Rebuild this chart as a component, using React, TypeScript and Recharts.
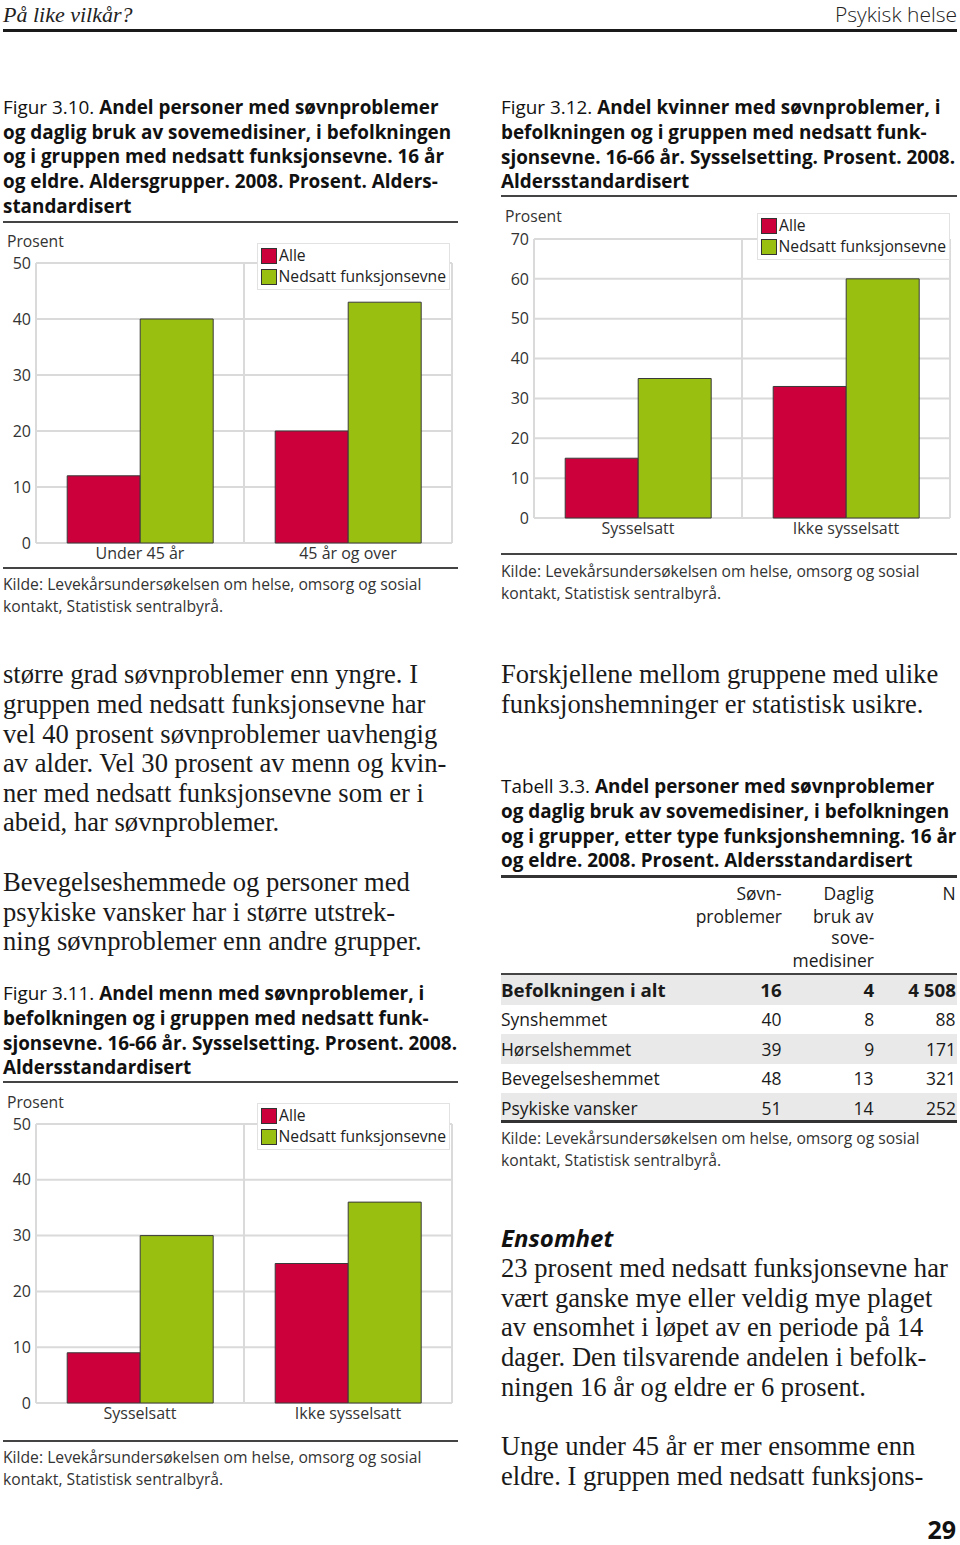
import React from 'react';
import { BarChart, Bar, XAxis, YAxis, CartesianGrid, Legend } from 'recharts';

const SANS = "'Open Sans', 'Noto Sans', sans-serif";
const SERIF = "'Liberation Serif', 'Times New Roman', serif";
const RED = '#cc003b';
const GREEN = '#99bf10';
const GRID = '#dadada';

// Figur 3.10
const CATS_310 = ['Under 45 år', '45 år og over'];
const ALLE_310 = [12, 20];
const NED_310 = [40, 43];
const TICKS_310 = [0, 10, 20, 30, 40, 50];
// Figur 3.12
const CATS_312 = ['Sysselsatt', 'Ikke sysselsatt'];
const ALLE_312 = [15, 33];
const NED_312 = [35, 60];
const TICKS_312 = [0, 10, 20, 30, 40, 50, 60, 70];
// Figur 3.11
const CATS_311 = ['Sysselsatt', 'Ikke sysselsatt'];
const ALLE_311 = [9, 25];
const NED_311 = [30, 36];
const TICKS_311 = [0, 10, 20, 30, 40, 50];
const SERIES_NAMES = ['Alle', 'Nedsatt funksjonsevne'];

// Tabell 3.3
const TAB_ROWS = ['Befolkningen i alt', 'Synshemmet', 'Hørselshemmet', 'Bevegelseshemmet', 'Psykiske vansker'];
const TAB_SOVN = ['16', '40', '39', '48', '51'];
const TAB_DAGLIG = ['4', '8', '9', '13', '14'];
const TAB_N = ['4 508', '88', '171', '321', '252'];

const KILDE = ['Kilde: Levekårsundersøkelsen om helse, omsorg og sosial', 'kontakt, Statistisk sentralbyrå.'];

type LineProps = {
  x: number; y: number; size: number; lh?: number; children: React.ReactNode;
  align?: 'left' | 'right'; sx?: number; style?: React.CSSProperties;
};
function Line({ x, y, size, lh, children, align = 'left', sx = 1, style }: LineProps) {
  const h = lh ?? Math.round(size * 1.4);
  const s: React.CSSProperties = {
    position: 'absolute', top: y - h / 2, height: h, lineHeight: h + 'px', fontSize: size,
    whiteSpace: 'nowrap', transform: sx !== 1 ? `scaleX(${sx})` : undefined,
    transformOrigin: align === 'right' ? 'right center' : 'left center', ...style,
  };
  if (align === 'right') s.right = 960 - x; else s.left = x;
  return <div style={s}>{children}</div>;
}

function Rule({ x1, x2, y, t, c = '#333' }: { x1: number; x2: number; y: number; t: number; c?: string }) {
  return <div style={{ position: 'absolute', left: x1, top: y - t / 2, width: x2 - x1, height: t, background: c }} />;
}

const capStyle: React.CSSProperties = { fontFamily: SANS, fontWeight: 700, color: '#111' };
function Caption({ x, ys, label, lines }: { x: number; ys: number[]; label: string; lines: string[] }) {
  return (
    <>
      {lines.map((t, i) => (
        <Line key={i} x={x} y={ys[i]} size={18.9} style={capStyle}>
          {i === 0 ? <span style={{ fontWeight: 400 }}>{label} </span> : null}
          {t}
        </Line>
      ))}
    </>
  );
}

function Source({ x, ys }: { x: number; ys: number[] }) {
  return (
    <>
      {KILDE.map((t, i) => (
        <Line key={i} x={x} y={ys[i]} size={15.7} style={{ fontFamily: SANS, color: '#333' }}>{t}</Line>
      ))}
    </>
  );
}

const renderLegend = (props: any) => {
  const payload = props.payload || [];
  return (
    <div style={{ background: '#fff', border: '1px solid #e2e2e2', padding: '1px 3px 2px 3px', boxSizing: 'border-box', width: 193 }}>
      {payload.map((p: any) => (
        <div key={p.value} style={{ display: 'flex', alignItems: 'center', height: 21 }}>
          <span style={{ display: 'inline-block', width: 16, height: 16, background: p.color, border: '1px solid #333', boxSizing: 'border-box', marginRight: 2 }} />
          <span style={{ fontSize: 15.7, fontFamily: SANS, color: '#222', lineHeight: '21px', whiteSpace: 'nowrap' }}>{p.value}</span>
        </div>
      ))}
    </div>
  );
};

type FigProps = {
  cats: string[]; alle: number[]; ned: number[]; ticks: number[];
  left: number; top: number; width: number; height: number;
  mTop: number; mRight: number; mLeft: number; legendLeft: number;
};
function Fig({ cats, alle, ned, ticks, left, top, width, height, mTop, mRight, mLeft, legendLeft }: FigProps) {
  const data = cats.map((c, i) => ({ cat: c, alle: alle[i], ned: ned[i] }));
  const tickStyle = { fontSize: 16, fill: '#333', fontFamily: SANS };
  return (
    <div style={{ position: 'absolute', left, top }}>
      <BarChart width={width} height={height} data={data}
        margin={{ top: mTop, right: mRight, left: mLeft, bottom: 0 }}
        barCategoryGap="15%" barGap={0}>
        <CartesianGrid stroke={GRID} strokeWidth={2}
          verticalCoordinatesGenerator={({ offset }: any) => [offset.left, offset.left + offset.width / 2, offset.left + offset.width]} />
        <XAxis dataKey="cat" axisLine={false} tickLine={false} tickSize={0} tickMargin={5} height={25} interval={0} tick={tickStyle} />
        <YAxis domain={[0, ticks[ticks.length - 1]]} ticks={ticks} interval={0} axisLine={false} tickLine={false} tickSize={0} tickMargin={5} width={30} tick={tickStyle} />
        <Bar dataKey="alle" name={SERIES_NAMES[0]} fill={RED} stroke="#3a3a3a" strokeWidth={1} isAnimationActive={false} />
        <Bar dataKey="ned" name={SERIES_NAMES[1]} fill={GREEN} stroke="#3a3a3a" strokeWidth={1} isAnimationActive={false} />
        <Legend layout="vertical" align="center" verticalAlign="middle" content={renderLegend}
          wrapperStyle={{ position: 'absolute', left: legendLeft, top: 8, width: 193 }} />
      </BarChart>
    </div>
  );
}

const bodyStyle: React.CSSProperties = { fontFamily: SERIF, color: '#1a1a1a' };
const BODY_SIZE = 26.6;
const BODY_LEFT = [
  'større grad søvnproblemer enn yngre. I',
  'gruppen med nedsatt funksjonsevne har',
  'vel 40 prosent søvnproblemer uavhengig',
  'av alder. Vel 30 prosent av menn og kvin-',
  'ner med nedsatt funksjonsevne som er i',
  'abeid, har søvnproblemer.',
  'Bevegelseshemmede og personer med',
  'psykiske vansker har i større utstrek-',
  'ning søvnproblemer enn andre grupper.',
];
const BODY_LEFT_Y = [674, 704, 734, 763, 793, 822, 882, 912, 941];
const BODY_RIGHT = ['Forskjellene mellom gruppene med ulike', 'funksjonshemninger er statistisk usikre.'];
const BODY_RIGHT_Y = [674, 704];
const ENSOM = [
  '23 prosent med nedsatt funksjonsevne har',
  'vært ganske mye eller veldig mye plaget',
  'av ensomhet i løpet av en periode på 14',
  'dager. Den tilsvarende andelen i befolk-',
  'ningen 16 år og eldre er 6 prosent.',
  'Unge under 45 år er mer ensomme enn',
  'eldre. I gruppen med nedsatt funksjons-',
];
const ENSOM_Y = [1268, 1298, 1327, 1357, 1387, 1446, 1476];

function Table() {
  const rowY = [990, 1019, 1049, 1078, 1108];
  const cell: React.CSSProperties = { fontFamily: SANS, color: '#1a1a1a' };
  const hdr = (x: number, ys: number[], lines: string[]) =>
    lines.map((t, i) => <Line key={t} x={x} y={ys[i]} size={18} sx={0.97} align="right" style={cell}>{t}</Line>);
  return (
    <>
      <Rule x1={501} x2={957} y={876} t={3} c="#333" />
      {hdr(782, [893, 916], ['Søvn-', 'problemer'])}
      {hdr(874, [893, 916, 937, 960], ['Daglig', 'bruk av', 'sove-', 'medisiner'])}
      {hdr(956, [893], ['N'])}
      {TAB_ROWS.map((r, i) => {
        const b = i === 0;
        const st = { ...cell, fontWeight: b ? 700 : 400 };
        const sx = b ? 1.04 : 0.97;
        return (
          <React.Fragment key={r}>
            {i % 2 === 0 ? <div style={{ position: 'absolute', left: 501, width: 456, top: rowY[i] - 15, height: 29.5, background: '#e9e9e9' }} /> : null}
            <Line x={501} y={rowY[i]} size={18} sx={sx} style={st}>{r}</Line>
            <Line x={782} y={rowY[i]} size={18} sx={sx} align="right" style={st}>{TAB_SOVN[i]}</Line>
            <Line x={874} y={rowY[i]} size={18} sx={sx} align="right" style={st}>{TAB_DAGLIG[i]}</Line>
            <Line x={956} y={rowY[i]} size={18} sx={sx} align="right" style={st}>{TAB_N[i]}</Line>
          </React.Fragment>
        );
      })}
      <Rule x1={501} x2={957} y={974} t={2} c="#444" />
      <Rule x1={501} x2={957} y={1121} t={3} c="#333" />
    </>
  );
}

export default function App() {
  return (
    <div style={{ position: 'absolute', left: 0, top: 0, width: 960, height: 1545, background: '#fff', overflow: 'hidden' }}>
      {/* header */}
      <Line x={3} y={14} size={22} style={{ fontFamily: SERIF, fontStyle: 'italic', color: '#222' }}>På like vilkår?</Line>
      <Line x={957} y={14} size={21} align="right" style={{ fontFamily: SANS, fontWeight: 300, color: '#222' }}>Psykisk helse</Line>
      <Rule x1={3} x2={957} y={30} t={3} c="#1a1a1a" />

      {/* Figur 3.10 */}
      <Caption x={3} ys={[107, 132, 156, 181, 206]} label="Figur 3.10."
        lines={['Andel personer med søvnproblemer', 'og daglig bruk av sovemedisiner, i befolkningen', 'og i gruppen med nedsatt funksjonsevne. 16 år', 'og eldre. Aldersgrupper. 2008. Prosent. Alders-', 'standardisert']} />
      <Rule x1={3} x2={458} y={222} t={2} c="#444" />
      <Line x={7} y={241} size={15.7} style={{ fontFamily: SANS, color: '#333' }}>Prosent</Line>
      <Fig cats={CATS_310} alle={ALLE_310} ned={NED_310} ticks={TICKS_310}
        left={0} top={235} width={460} height={333} mTop={28} mRight={8} mLeft={6} legendLeft={257} />
      <Rule x1={3} x2={458} y={568} t={2} c="#444" />
      <Source x={3} ys={[584, 606]} />

      {/* Figur 3.12 */}
      <Caption x={501} ys={[107, 132, 157, 181]} label="Figur 3.12."
        lines={['Andel kvinner med søvnproblemer, i', 'befolkningen og i gruppen med nedsatt funk-', 'sjonsevne. 16-66 år. Sysselsetting. Prosent. 2008.', 'Aldersstandardisert']} />
      <Rule x1={501} x2={957} y={196} t={2} c="#444" />
      <Line x={505} y={216} size={15.7} style={{ fontFamily: SANS, color: '#333' }}>Prosent</Line>
      <Fig cats={CATS_312} alle={ALLE_312} ned={NED_312} ticks={TICKS_312}
        left={495} top={205} width={465} height={338} mTop={34} mRight={10} mLeft={9} legendLeft={262} />
      <Rule x1={501} x2={957} y={554} t={2} c="#444" />
      <Source x={501} ys={[571, 593]} />

      {/* Body left */}
      {BODY_LEFT.map((t, i) => (
        <Line key={i} x={3} y={BODY_LEFT_Y[i]} size={BODY_SIZE} lh={30} style={bodyStyle}>{t}</Line>
      ))}

      {/* Figur 3.11 */}
      <Caption x={3} ys={[993, 1018, 1043, 1067]} label="Figur 3.11."
        lines={['Andel menn med søvnproblemer, i', 'befolkningen og i gruppen med nedsatt funk-', 'sjonsevne. 16-66 år. Sysselsetting. Prosent. 2008.', 'Aldersstandardisert']} />
      <Rule x1={3} x2={458} y={1082} t={2} c="#444" />
      <Line x={7} y={1102} size={15.7} style={{ fontFamily: SANS, color: '#333' }}>Prosent</Line>
      <Fig cats={CATS_311} alle={ALLE_311} ned={NED_311} ticks={TICKS_311}
        left={0} top={1095} width={460} height={333} mTop={29} mRight={8} mLeft={6} legendLeft={257} />
      <Rule x1={3} x2={458} y={1441} t={2} c="#444" />
      <Source x={3} ys={[1457, 1479]} />

      {/* Body right */}
      {BODY_RIGHT.map((t, i) => (
        <Line key={i} x={501} y={BODY_RIGHT_Y[i]} size={BODY_SIZE} lh={30} style={bodyStyle}>{t}</Line>
      ))}

      {/* Tabell 3.3 */}
      <Caption x={501} ys={[786, 811, 836, 860]} label="Tabell 3.3."
        lines={['Andel personer med søvnproblemer', 'og daglig bruk av sovemedisiner, i befolkningen', 'og i grupper, etter type funksjonshemning. 16 år', 'og eldre. 2008. Prosent. Aldersstandardisert']} />
      <Table />
      <Source x={501} ys={[1138, 1160]} />

      {/* Ensomhet */}
      <Line x={501} y={1238} size={24} style={{ fontFamily: SANS, fontWeight: 700, fontStyle: 'italic', color: '#111' }}>Ensomhet</Line>
      {ENSOM.map((t, i) => (
        <Line key={i} x={501} y={ENSOM_Y[i]} size={BODY_SIZE} lh={30} style={bodyStyle}>{t}</Line>
      ))}

      <Line x={956} y={1529} size={25} align="right" style={{ fontFamily: SANS, fontWeight: 700, color: '#111' }}>29</Line>
    </div>
  );
}
